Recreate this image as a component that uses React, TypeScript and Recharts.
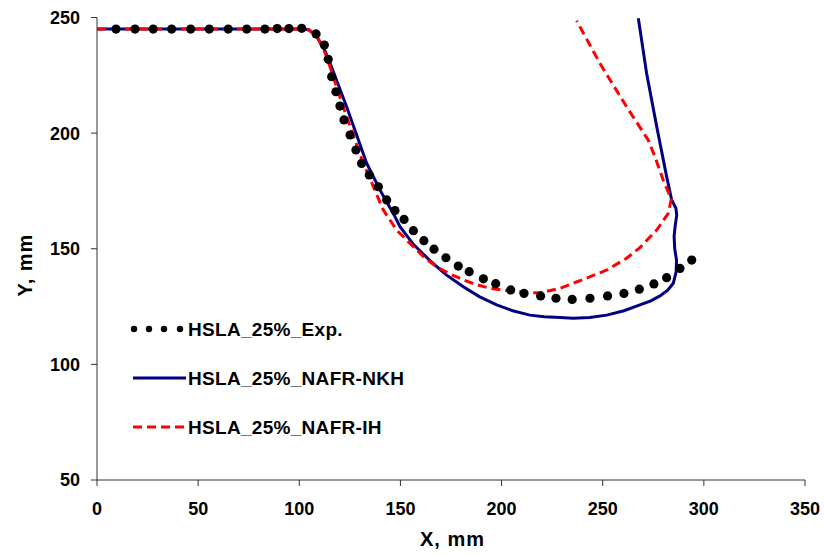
import React from 'react';
import { ScatterChart, Scatter, XAxis, YAxis, Legend, Label } from 'recharts';

const seriesNames = ['HSLA_25%_Exp.', 'HSLA_25%_NAFR-NKH', 'HSLA_25%_NAFR-IH'];
const seriesColors = ['#000000', '#000080', '#FF0000'];

const xTicks = [0, 50, 100, 150, 200, 250, 300, 350];
const yTicks = [50, 100, 150, 200, 250];

const expX = [9.4, 18.8, 27.8, 36.9, 46.3, 55.5, 64.9, 74.0, 83.0, 89.1, 94.9, 101.2,
  108.3, 112.4, 114.3, 116.0, 118.1, 120.1, 122.1, 125.1, 128.0, 130.8, 134.6, 139.1, 143.2, 147.3, 151.8,
  156.4, 161.6, 166.6, 172.5, 178.6, 184.0, 191.0, 197.1, 204.5, 211.1, 219.3, 226.9,
  234.9, 243.7, 252.4, 260.5, 268.1, 275.3, 281.6, 288.2, 294.0];
const expY = [245, 245, 245, 245, 245, 245, 245, 245, 245, 245.2, 245.2, 245.3,
  242.9, 238.1, 231.9, 224.4, 217.9, 211.7, 205.7, 199.2, 192.7, 186.9, 181.9, 176.8, 171.1, 166.5, 162.7,
  157.8, 153.5, 149.8, 146.1, 142.5, 140.1, 137.0, 134.9, 132.2, 130.7, 129.6, 128.6,
  128.1, 128.6, 129.6, 130.7, 132.5, 134.8, 137.5, 141.5, 145.1];

const nkhX = [0, 102.8, 104.8, 106.8, 108.7, 110.2, 112.5, 115.2, 123.4, 133.3, 139.9, 147.3, 149.8,
  156.5, 164.6, 172.5, 181.1, 189.0, 197.6, 205.5, 214.0, 221.0, 228.9, 235.4, 243.5, 252.0, 260.5,
  268.4, 273.8, 278.3, 282.0, 284.9, 286.3, 286.5, 285.6, 285.3, 285.9, 286.6, 286.2, 284.1, 281.6,
  276.7, 271.7, 267.6];
const nkhY = [245, 245, 244.6, 243.3, 241.7, 239.4, 236.0, 230.3, 211.4, 187.0, 175.4, 163.9, 159.5,
  151.8, 144.9, 138.8, 133.6, 129.3, 125.7, 123.2, 121.3, 120.6, 120.3, 119.9, 120.3, 121.3, 123.2,
  125.7, 127.5, 129.6, 132.0, 135.1, 140.0, 145.0, 150.0, 155.5, 160.5, 164.5, 167.5, 171.1, 181.2,
  202.8, 225.9, 249.7];

const ihX = [0, 102.8, 104.8, 106.8, 108.7, 110.2, 113.2, 121.6, 131.0, 141.5, 148.1, 156.4, 161.8, 167.9,
  174.3, 181.1, 187.5, 194.3, 201.5, 209.1, 214.0, 219.0, 228.9, 235.4, 243.5, 252.0, 261.8, 268.4, 276.7,
  282.4, 283.9, 279.9, 275.8, 272.5, 261.8, 248.6, 237.1];
const ihY = [245, 245, 244.6, 243.3, 241.7, 239.4, 233.8, 211.7, 188.4, 166.8, 158.1, 150.9, 146.2, 142.2,
  139.2, 136.5, 134.5, 132.9, 132.0, 131.4, 131.0, 130.9, 132.9, 135.1, 137.8, 140.8, 145.9, 150.5, 158.1,
  165.3, 171.5, 179.7, 189.8, 197.0, 211.4, 230.2, 248.6];

const zip = (xs: number[], ys: number[]) => xs.map((x, i) => ({ x, y: ys[i] }));
const expData = zip(expX, expY);
const nkhData = zip(nkhX, nkhY);
const ihData = zip(ihX, ihY);

const FONT = '"Liberation Sans", Arial, sans-serif';

const Dot = (props: any) => {
  const { cx, cy } = props;
  if (cx == null || cy == null) return <g />;
  return <circle cx={cx} cy={cy} r={4.6} fill="#000" />;
};
const NoShape = () => <g />;

const LegendContent = () => {
  const rows = [16, 65, 114];
  return (
    <svg width={340} height={130} style={{ overflow: 'visible' }}>
      {[1, 16, 31, 47].map((cx) => (
        <circle key={cx} cx={cx} cy={rows[0]} r={3.2} fill={seriesColors[0]} />
      ))}
      <line x1={0} x2={53} y1={rows[1]} y2={rows[1]} stroke={seriesColors[1]} strokeWidth={3} />
      <line x1={0} x2={53} y1={rows[2]} y2={rows[2]} stroke={seriesColors[2]} strokeWidth={3} strokeDasharray="9 5" />
      {seriesNames.map((n, i) => (
        <text key={n} x={55} y={rows[i] + 7} fontFamily={FONT} fontWeight="bold" fontSize={19}
          letterSpacing={0.3} fill="#000">{n}</text>
      ))}
    </svg>
  );
};

export default function App() {
  return (
    <div style={{ position: 'absolute', left: 0, top: 0 }}>
      <ScatterChart width={824} height={556} margin={{ top: 17.5, right: 19, left: 0, bottom: 0 }}
        style={{ fontFamily: FONT }}>
        <XAxis type="number" dataKey="x" domain={[0, 350]} ticks={xTicks} allowDataOverflow
          height={76} tickSize={6} tickMargin={16} stroke="#333"
          tick={{ fill: '#000', fontSize: 18, fontWeight: 'bold', fontFamily: FONT }}>
          <Label content={() => (
            <text x={452.5} y={546} textAnchor="middle" fontFamily={FONT} fontWeight="bold"
              fontSize={20} letterSpacing={1} fill="#000">X, mm</text>
          )} />
        </XAxis>
        <YAxis type="number" dataKey="y" domain={[50, 250]} ticks={yTicks} allowDataOverflow
          width={97} tickSize={6} tickMargin={11} stroke="#333"
          tick={{ fill: '#000', fontSize: 18, fontWeight: 'bold', fontFamily: FONT }}>
          <Label content={() => (
            <text x={32} y={265} textAnchor="middle" fontFamily={FONT} fontWeight="bold"
              fontSize={20} letterSpacing={1} fill="#000" transform="rotate(-90 32 265)">Y, mm</text>
          )} />
        </YAxis>
        <Legend layout="vertical" align="center" verticalAlign="middle" content={LegendContent}
          wrapperStyle={{ position: 'absolute', left: 133, top: 313, width: 340, height: 130 }} />
        <Scatter name={seriesNames[1]} data={nkhData} isAnimationActive={false} shape={NoShape}
          line={{ stroke: seriesColors[1], strokeWidth: 3, fill: 'none' }} />
        <Scatter name={seriesNames[2]} data={ihData} isAnimationActive={false} shape={NoShape}
          line={{ stroke: seriesColors[2], strokeWidth: 3, strokeDasharray: '9 5', fill: 'none' }} />
        <Scatter name={seriesNames[0]} data={expData} isAnimationActive={false} shape={Dot} />
      </ScatterChart>
    </div>
  );
}
